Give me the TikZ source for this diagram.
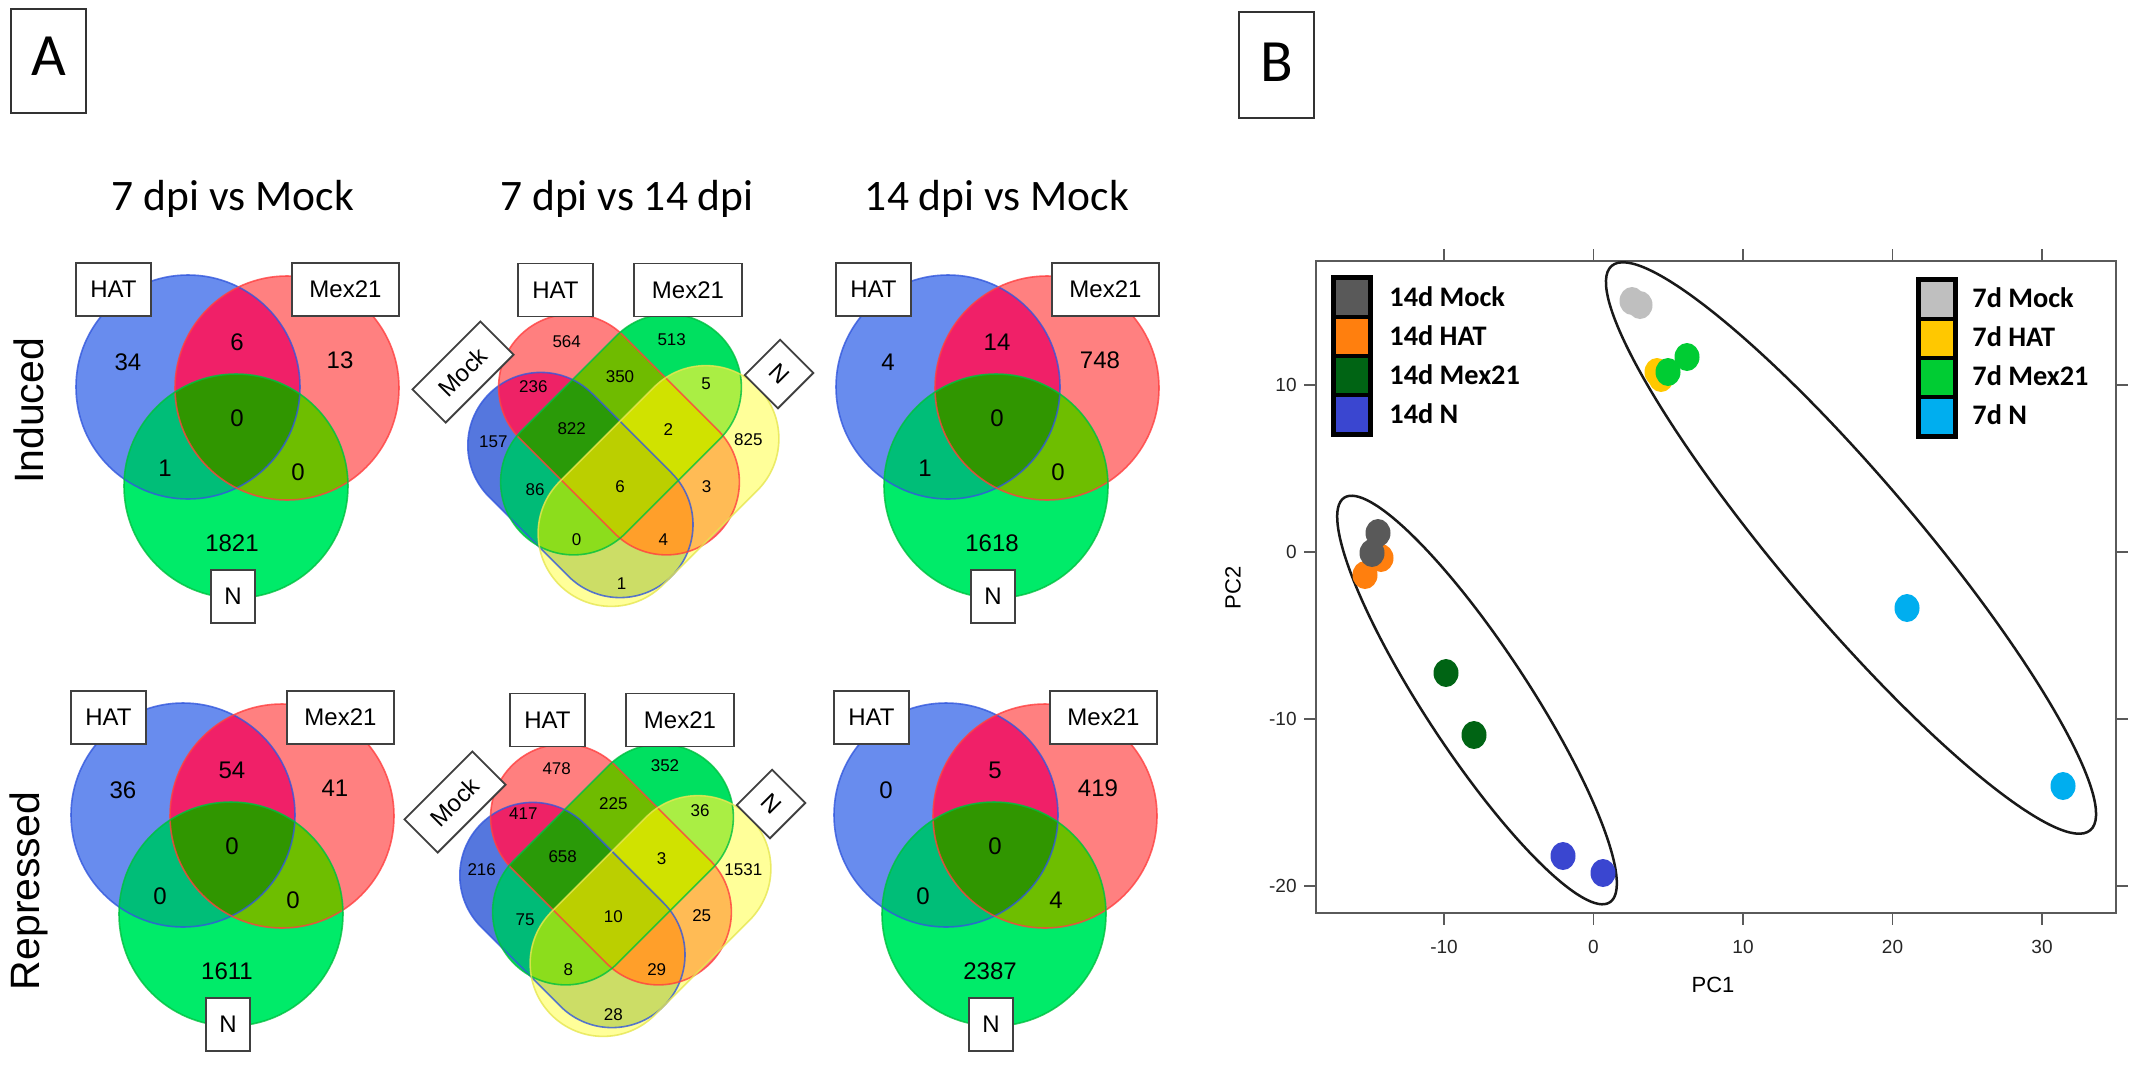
\documentclass[tikz,border=0pt]{standalone}
\usepackage{fontspec}
\setmainfont{Carlito}
\newfontfamily\arialf{Liberation Sans}
% three-set colours
\definecolor{vB}{HTML}{688CEE}
\definecolor{vR}{HTML}{FF8080}
\definecolor{vG}{HTML}{00EB69}
\definecolor{vBR}{HTML}{F02068}
\definecolor{vBG}{HTML}{00BE78}
\definecolor{vRG}{HTML}{6EBE00}
\definecolor{vBRG}{HTML}{309600}
% outlines
\definecolor{lB}{HTML}{3358DD}
\definecolor{lR}{HTML}{FF4040}
\definecolor{lG}{HTML}{00C040}
\definecolor{lY}{HTML}{E6E650}
% four-set colours
\definecolor{qB}{HTML}{5577DE}
\definecolor{qR}{HTML}{FF7F7F}
\definecolor{qG}{HTML}{00E060}
\definecolor{qY}{HTML}{FFFF99}
\definecolor{qBR}{HTML}{EE2266}
\definecolor{qBG}{HTML}{00BB77}
\definecolor{qBY}{HTML}{CCDD66}
\definecolor{qRG}{HTML}{6FBB00}
\definecolor{qRY}{HTML}{FFBB55}
\definecolor{qGY}{HTML}{AAEE44}
\definecolor{qBRG}{HTML}{2A9A08}
\definecolor{qBRY}{HTML}{FF9F2A}
\definecolor{qBGY}{HTML}{8CDD1C}
\definecolor{qRGY}{HTML}{D0E200}
\definecolor{qBRGY}{HTML}{BBCF00}
% PCA colours
\definecolor{pMockF}{HTML}{595959}
\definecolor{pHATF}{HTML}{FF7F0E}
\definecolor{pMexF}{HTML}{006414}
\definecolor{pNF}{HTML}{3A46D0}
\definecolor{pMockS}{HTML}{BFBFBF}
\definecolor{pHATS}{HTML}{FFC800}
\definecolor{pMexS}{HTML}{00CC33}
\definecolor{pNS}{HTML}{00AEEF}
\definecolor{axisgray}{HTML}{5A5A5A}

% stadium, axis running down-right (half straight length 67, radius 73)
\newcommand{\stadDR}[2]{([shift={(4.24,-99)}]#1,#2) -- ++(94.76,94.76) arc[start angle=-45,end angle=135,radius=73] -- ++(-94.76,-94.76) arc[start angle=135,end angle=315,radius=73] -- cycle}
% shorter stadium, axis running down-right (half straight length 56, radius 73)
\newcommand{\stadDRs}[2]{([shift={(12.02,-91.22)}]#1,#2) -- ++(79.2,79.2) arc[start angle=-45,end angle=135,radius=73] -- ++(-79.2,-79.2) arc[start angle=135,end angle=315,radius=73] -- cycle}
% stadium, axis running down-left
\newcommand{\stadDL}[2]{([shift={(99,4.24)}]#1,#2) -- ++(-94.76,94.76) arc[start angle=45,end angle=225,radius=73] -- ++(94.76,-94.76) arc[start angle=225,end angle=405,radius=73] -- cycle}
\newcommand{\regtwo}[3]{\begin{scope}\clip #1;\fill[#3] #2;\end{scope}}
\newcommand{\regthree}[4]{\begin{scope}\clip #1;\clip #2;\fill[#4] #3;\end{scope}}
\newcommand{\regfour}[5]{\begin{scope}\clip #1;\clip #2;\clip #3;\fill[#5] #4;\end{scope}}

\newcommand{\venthree}[9]{%
\begin{scope}[shift={(#1,#2)}, name prefix=\vp]
 \def\CA{(188,387) circle[radius=112]}%
 \def\CB{(287,388) circle[radius=112]}%
 \def\CC{(236,486) circle[radius=112]}%
 \fill[vB] \CA; \fill[vR] \CB; \fill[vG] \CC;
 \regtwo{\CA}{\CB}{vBR}
 \regtwo{\CA}{\CC}{vBG}
 \regtwo{\CB}{\CC}{vRG}
 \regthree{\CA}{\CB}{\CC}{vBRG}
 \draw[lB,vline] \CA; \draw[lR,vline] \CB; \draw[lG,vline] \CC;
 \node[vnum] (n1) at (128,362) {#3};
 \node[vnum] (n2) at (237,342) {#4};
 \node[vnum] (n3) at (340,360) {#5};
 \node[vnum] (n4) at (237,418) {#6};
 \node[vnum] (n5) at (165,468) {#7};
 \node[vnum] (n6) at (298,472) {#8};
 \node[vnum] (n7) at (232,543) {#9};
 \node[setlbl, minimum width=37.5pt] (hat) at (113.5,289.5) {HAT};
 \node[setlbl, minimum width=53.5pt] (mex) at (345.5,289.5) {Mex21};
 \node[setlbl, minimum width=22pt] (n) at (233,596.5) {N};
\end{scope}}

\newcommand{\venfour}[2]{%
\begin{scope}[shift={(#1,#2)}, name prefix=\vp]
 \def\QB{\stadDRs{580.4}{485}}%
 \def\QR{\stadDR{619}{434.5}}%
 \def\QG{\stadDL{621}{434.5}}%
 \def\QY{\stadDL{658.5}{486}}%
 \fill[qB] \QB; \fill[qR] \QR; \fill[qG] \QG; \fill[qY] \QY;
 \regtwo{\QB}{\QR}{qBR}
 \regtwo{\QB}{\QG}{qBG}
 \regtwo{\QB}{\QY}{qBY}
 \regtwo{\QR}{\QG}{qRG}
 \regtwo{\QR}{\QY}{qRY}
 \regtwo{\QG}{\QY}{qGY}
 \regthree{\QB}{\QR}{\QG}{qBRG}
 \regthree{\QB}{\QR}{\QY}{qBRY}
 \regthree{\QB}{\QG}{\QY}{qBGY}
 \regthree{\QR}{\QG}{\QY}{qRGY}
 \regfour{\QB}{\QR}{\QG}{\QY}{qBRGY}
 \draw[lB,vline] \QB; \draw[lR,vline] \QR; \draw[lG,vline] \QG; \draw[lY,vline] \QY;
 \node[setlbl, minimum width=37.5pt] (hat) at (555.5,290) {HAT};
 \node[setlbl, minimum width=54pt] (mex) at (688,290) {Mex21};
 \node[setlbl, minimum width=48pt, minimum height=23.5pt, rotate=45] (mock) at (463,372) {Mock};
 \node[setlbl, minimum width=23.5pt, minimum height=25pt, rotate=-45] (n) at (779,374) {N};
\end{scope}}

\begin{document}
\begin{tikzpicture}[x=0.5pt,y=-0.5pt,
  panelbox/.style={draw=black!80, line width=1pt, inner sep=0pt, minimum width=37.5pt, font=\fontsize{30}{36}\selectfont},
  coltitle/.style={font=\fontsize{21.75}{26}\selectfont, inner sep=0pt, anchor=base},
  rowtitle/.style={rotate=90, font=\arialf\fontsize{20.5}{24}\selectfont, inner sep=0pt},
  setlbl/.style={draw=black!75, fill=white, line width=0.9pt, inner sep=0pt, minimum height=26.5pt, font=\arialf\fontsize{12}{14}\selectfont},
  vnum/.style={font=\arialf\fontsize{12}{14}\selectfont, inner sep=0pt},
  qnum/.style={font=\arialf\fontsize{8.5}{10}\selectfont, inner sep=0pt},
  vline/.style={line width=0.8pt, draw opacity=0.8},
  legtxt/.style={font=\bfseries\fontsize{14.15}{17}\selectfont, anchor=west, inner sep=0pt},
  ticklbl/.style={font=\arialf\fontsize{9.5}{11}\selectfont, inner sep=0pt, text=black!85},
  axline/.style={draw=axisgray, line width=1.1pt},
  tickline/.style={draw=axisgray, line width=0.9pt},
  grp/.style={draw=black!90, line width=1.25pt},
  dotsz/.style={x radius=12.5, y radius=14}
]
\path[use as bounding box, fill=white] (0,0) rectangle (2136,1067);

% panel labels
\node[panelbox, minimum height=52pt, text depth=4.5pt] (pA) at (48.5,61) {A};
\node[panelbox, minimum height=53pt, text depth=3pt] (pB) at (1276.5,65) {B};

% column titles
\node[coltitle] (t1) at (233,210) {7 dpi vs Mock};
\node[coltitle] (t2) at (627,210) {7 dpi vs 14 dpi};
\node[coltitle] (t3) at (997,210) {14 dpi vs Mock};

% row titles
\node[rowtitle] (rInd) at (29,411) {Induced};
\node[rowtitle] (rRep) at (29,891) {Repressed};

% three-set Venn diagrams
\def\vp{ia-}\venthree{0}{0}{34}{6}{13}{0}{1}{0}{1821}
\def\vp{ic-}\venthree{760}{0}{4}{14}{748}{0}{1}{0}{1618}
\def\vp{ra-}\venthree{-5}{428}{36}{54}{41}{0}{0}{0}{1611}
\def\vp{rc-}\venthree{758}{428}{0}{5}{419}{0}{0}{4}{2387}

% four-set Venn diagrams
\def\vp{ib-}\venfour{0}{0}
\node[qnum] (ib1) at (566.7,341.7) {564};
\node[qnum] (ib2) at (671.7,340) {513};
\node[qnum] (ib3) at (533.3,386.7) {236};
\node[qnum] (ib4) at (620,376.7) {350};
\node[qnum] (ib5) at (706,383.3) {5};
\node[qnum] (ib6) at (493.3,441.7) {157};
\node[qnum] (ib7) at (571.7,428.3) {822};
\node[qnum] (ib8) at (668.3,430) {2};
\node[qnum] (ib9) at (748.3,440) {825};
\node[qnum] (ib10) at (535,490) {86};
\node[qnum] (ib11) at (620,486.7) {6};
\node[qnum] (ib12) at (706.7,486.7) {3};
\node[qnum] (ib13) at (576.7,540) {0};
\node[qnum] (ib14) at (663.3,540) {4};
\node[qnum] (ib15) at (621.7,583.3) {1};

\def\vp{rb-}\venfour{-8}{430}
\node[qnum] (rb1) at (556.7,768.3) {478};
\node[qnum] (rb2) at (665,766) {352};
\node[qnum] (rb3) at (523.3,813.3) {417};
\node[qnum] (rb4) at (613.3,803.3) {225};
\node[qnum] (rb5) at (700,810.7) {36};
\node[qnum] (rb6) at (481.7,870) {216};
\node[qnum] (rb7) at (562.7,856.7) {658};
\node[qnum] (rb8) at (661.7,858.3) {3};
\node[qnum] (rb9) at (743.3,870) {1531};
\node[qnum] (rb10) at (525,919.3) {75};
\node[qnum] (rb11) at (613.3,916.7) {10};
\node[qnum] (rb12) at (701.7,916) {25};
\node[qnum] (rb13) at (568.3,970) {8};
\node[qnum] (rb14) at (656.7,970) {29};
\node[qnum] (rb15) at (613.3,1015) {28};

% ---------- PCA plot ----------
\draw[axline] (1316,261) rectangle (2116,913);
\foreach \xx in {1444,1593.5,1743,1892.5,2042}{
  \draw[tickline] (\xx,261) -- (\xx,249);
  \draw[tickline] (\xx,913) -- (\xx,925);
}
\foreach \yy in {385,552,719,886}{
  \draw[tickline] (1316,\yy) -- (1304,\yy);
  \draw[tickline] (2116,\yy) -- (2128,\yy);
}
\node[ticklbl] (xm10) at (1444,947) {-10};
\node[ticklbl] (x0) at (1593.5,947) {0};
\node[ticklbl] (x10) at (1743,947) {10};
\node[ticklbl] (x20) at (1892.5,947) {20};
\node[ticklbl] (x30) at (2042,947) {30};
\node[ticklbl, anchor=east] (y10) at (1297,385) {10};
\node[ticklbl, anchor=east] (y0) at (1297,552) {0};
\node[ticklbl, anchor=east] (ym10) at (1297,719) {-10};
\node[ticklbl, anchor=east] (ym20) at (1297,886) {-20};
\node[font=\arialf\fontsize{11}{13}\selectfont, inner sep=0pt] (pc1) at (1713,985) {PC1};
\node[font=\arialf\fontsize{11}{13}\selectfont, inner sep=0pt, rotate=90] (pc2) at (1233,588) {PC2};

% group ellipses
\draw[grp, rotate around={-56.7:(1477,700)}] (1477,700) ellipse[x radius=242, y radius=52];
\draw[grp, rotate around={-49.7:(1851,548)}] (1851,548) ellipse[x radius=370, y radius=69];

% samples
\fill[pMockS] (1632,301) ellipse[dotsz];
\fill[pMockS] (1640,305) ellipse[dotsz];
\fill[pHATS] (1657,372) ellipse[dotsz];
\fill[pHATS] (1661,378) ellipse[dotsz];
\fill[pMexS] (1668,372) ellipse[dotsz];
\fill[pMexS] (1687,357) ellipse[dotsz];
\fill[pNS] (1907,608) ellipse[dotsz];
\fill[pNS] (2063,786) ellipse[dotsz];
\fill[pHATF] (1381,558) ellipse[dotsz];
\fill[pHATF] (1365,575) ellipse[dotsz];
\fill[pMockF] (1378,533) ellipse[dotsz];
\fill[pMockF] (1372,553) ellipse[dotsz];
\fill[pMexF] (1446,673) ellipse[dotsz];
\fill[pMexF] (1474,735) ellipse[dotsz];
\fill[pNF] (1563,856) ellipse[dotsz];
\fill[pNF] (1603,873) ellipse[dotsz];

% legends
\fill[black] (1331,275) rectangle (1373,437);
\fill[pMockF] (1336,280) rectangle (1368,314.5);
\fill[pHATF] (1336,318.5) rectangle (1368,353.5);
\fill[pMexF] (1336,357.5) rectangle (1368,392.5);
\fill[pNF] (1336,396.5) rectangle (1368,432);
\node[legtxt] (lg1) at (1389,297) {14d Mock};
\node[legtxt] (lg2) at (1389,336) {14d HAT};
\node[legtxt] (lg3) at (1389,375) {14d Mex21};
\node[legtxt] (lg4) at (1389,414) {14d N};

\fill[black] (1916,277) rectangle (1958,439);
\fill[pMockS] (1921,282) rectangle (1953,316.5);
\fill[pHATS] (1921,320.5) rectangle (1953,355.5);
\fill[pMexS] (1921,359.5) rectangle (1953,394.5);
\fill[pNS] (1921,398.5) rectangle (1953,434);
\node[legtxt] (lr1) at (1972,298) {7d Mock};
\node[legtxt] (lr2) at (1972,337) {7d HAT};
\node[legtxt] (lr3) at (1972,376) {7d Mex21};
\node[legtxt] (lr4) at (1972,415) {7d N};
\end{tikzpicture}
\end{document}
